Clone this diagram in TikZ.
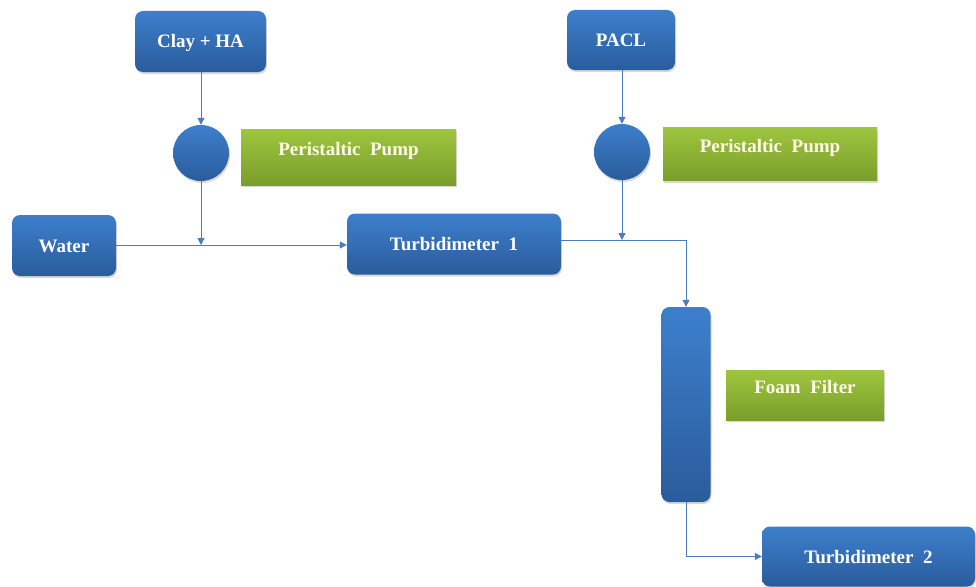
\documentclass[tikz,border=0pt]{standalone}
\usepackage{fontspec}
\setmainfont{Liberation Serif}
\usetikzlibrary{arrows.meta,shadows}
\definecolor{bluetop}{HTML}{3D7FCC}
\definecolor{bluebot}{HTML}{2A5C9C}
\definecolor{greentop}{HTML}{9EC53F}
\definecolor{greenbot}{HTML}{7A9E2B}
\definecolor{linecol}{HTML}{4A7CC0}
\definecolor{greentext}{HTML}{FFFCE8}
\tikzset{
  bluebox/.style={rectangle, rounded corners=8pt, top color=bluetop, bottom color=bluebot,
    draw=none, text=white, font=\fontsize{19}{21}\selectfont\bfseries,
    text height=13pt, text depth=0pt, inner sep=0pt,
    drop shadow={opacity=0.3, shadow xshift=1pt, shadow yshift=-2pt}},
  greenbox/.style={rectangle, top color=greentop, bottom color=greenbot,
    draw=none, text=greentext, font=\fontsize{19}{21}\selectfont\bfseries,
    text height=13pt, text depth=17pt, inner sep=0pt,
    drop shadow={opacity=0.3, shadow xshift=1pt, shadow yshift=-2pt}},
  pumpc/.style={circle, top color=bluetop, bottom color=bluebot, draw=none,
    minimum size=56pt, inner sep=0pt,
    drop shadow={opacity=0.3, shadow xshift=1pt, shadow yshift=-2pt}},
  flow/.style={draw=linecol, line width=1pt},
  flowarrow/.style={flow, -{Triangle[length=7pt,width=7pt]}}
}
\begin{document}
\begin{tikzpicture}[x=1pt,y=-1pt]
\fill[white] (0,0) rectangle (976,586);
\useasboundingbox (0,0) rectangle (976,586);

\node[bluebox, minimum width=131pt, minimum height=61pt] (clay) at (200.5,41.5) {Clay + HA};
\node[pumpc] (pump1) at (201,153) {};
\node[greenbox, minimum width=215pt, minimum height=56pt] (pp1) at (348.5,157) {Peristaltic\ \ Pump};
\node[bluebox, minimum width=104pt, minimum height=61pt] (water) at (64,245.5) {Water};
\node[bluebox, minimum width=214pt, minimum height=61pt] (turb1) at (454,244) {Turbidimeter\ \ 1};

\node[bluebox, minimum width=108pt, minimum height=60pt] (pacl) at (621,40) {PACL};
\node[pumpc] (pump2) at (622,152) {};
\node[greenbox, minimum width=214pt, minimum height=53pt] (pp2) at (770,154) {Peristaltic\ \ Pump};

\node[bluebox, minimum width=49pt, minimum height=195pt] (filter) at (686,404.5) {};
\node[greenbox, minimum width=158pt, minimum height=50pt] (ff) at (805,395) {Foam\ \ Filter};
\node[bluebox, minimum width=213pt, minimum height=60pt] (turb2) at (868.5,556.5) {Turbidimeter\ \ 2};

\coordinate (j1) at (201,245);
\coordinate (j2) at (622,240);

\draw[flowarrow] (clay.south -| pump1.north) -- (pump1.north);
\draw[flowarrow] (pump1.south) -- (j1);
\draw[flowarrow] (water.east |- j1) -- (turb1.west |- j1);

\draw[flowarrow] (pacl.south -| pump2.north) -- (pump2.north);
\draw[flowarrow] (pump2.south) -- (j2);
\draw[flowarrow] (turb1.east |- j2) -- (filter.north |- j2) -- (filter.north);

\draw[flowarrow] (filter.south) -- (filter.south |- turb2.west) -- (turb2.west);
\end{tikzpicture}
\end{document}
